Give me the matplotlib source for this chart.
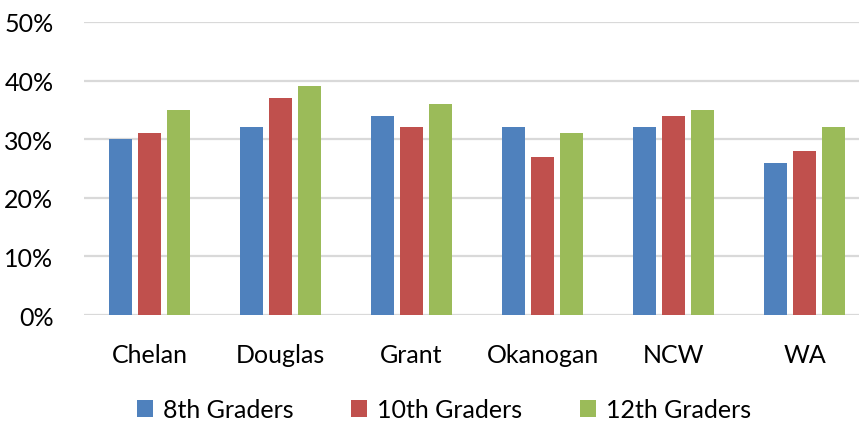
import numpy as np
import matplotlib.pyplot as plt
from matplotlib.ticker import PercentFormatter

plt.rcParams['font.family'] = ['Lato', 'DejaVu Sans']

regiones = ["Chelan", "Douglas", "Grant", "Okanogan", "NCW", "WA"]
series = ["8th Graders", "10th Graders", "12th Graders"]
grado8 = [30, 32, 34, 32, 32, 26]
grado10 = [31, 37, 32, 27, 34, 28]
grado12 = [35, 39, 36, 31, 35, 32]
colores = ["#4F81BD", "#C0504D", "#9BBB59"]

W, H = 859, 427
fig = plt.figure(figsize=(W / 100, H / 100), dpi=100)
# axes en pixeles
izq, der, arriba, abajo = 84, 859, 23, 316
ax = fig.add_axes([izq / W, 1 - abajo / H, (der - izq) / W, (abajo - arriba) / H])

x = np.arange(len(regiones))
paso = 131.0
ancho = 23 / paso
sep = 29 / paso
for i, (datos, nombre) in enumerate(zip([grado8, grado10, grado12], series)):
    ax.bar(x + (i - 1) * sep, datos, width=ancho, color=colores[i], label=nombre, zorder=3)

ax.set_xlim(-0.5, -0.5 + (der - izq) / paso)
ax.set_ylim(0, 50)
ax.set_yticks(np.arange(0, 51, 10))
ax.yaxis.set_major_formatter(PercentFormatter(decimals=0))
ax.set_xticks(x)
ax.set_xticklabels(regiones)
ax.grid(axis="y", color="#D9D9D9", linewidth=1.6, zorder=0)
for s in ["top", "right", "left", "bottom"]:
    ax.spines[s].set_visible(False)
ax.tick_params(axis="both", length=0, labelsize=18, colors="black")
ax.tick_params(axis="x", pad=20)
ax.tick_params(axis="y", pad=22)

fig.legend(loc="center", bbox_to_anchor=(444 / W, 1 - 411 / H), ncol=3, frameon=False,
           fontsize=18, handlelength=0.65, handleheight=0.65, handletextpad=0.4,
           columnspacing=2.3)

fig.savefig("out.png", dpi=100)
